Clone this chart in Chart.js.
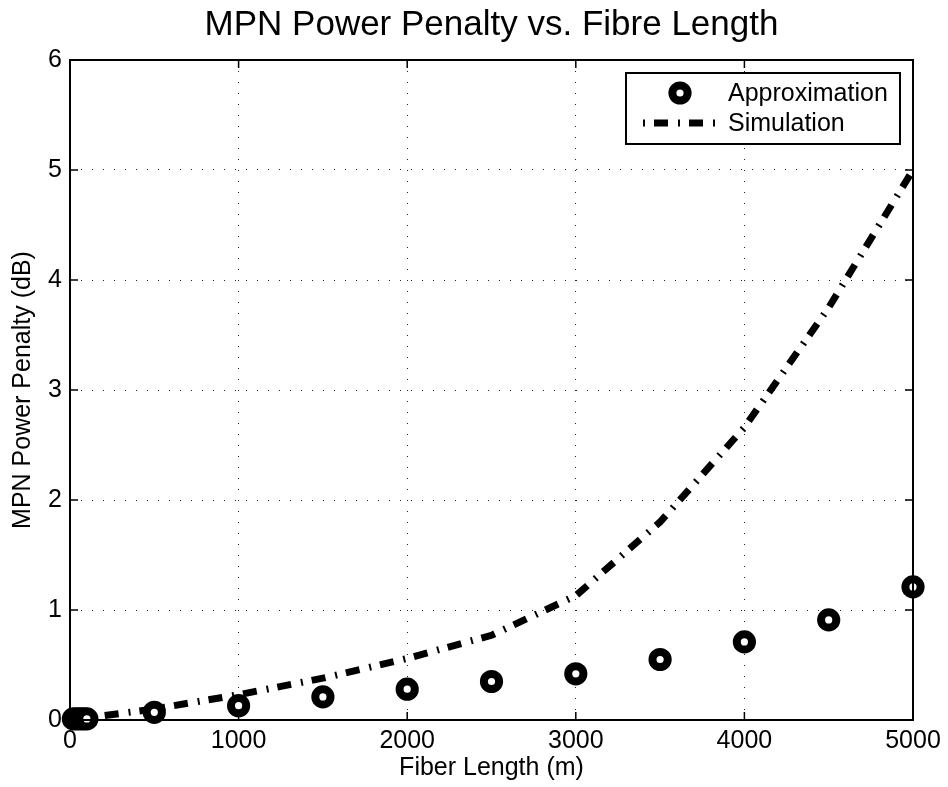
<!DOCTYPE html>
<html>
<head>
<meta charset="utf-8">
<script src="https://cdn.jsdelivr.net/npm/chart.js@4/dist/chart.umd.min.js"></script>
<style>
    html, body { margin: 0; padding: 0; background: #fff; }
    #wrap { width: 948px; height: 787px; }
</style>
</head>
<body>
<div id="wrap"><canvas id="myChartMpn" width="948" height="787"></canvas></div>
<script>
// fibre length (m) and penalty (dB)
const simLength = [0, 500, 1000, 1500, 2000, 2500, 3000, 3500, 4000, 4500, 5000];
const simPenalty = [0, 0.10, 0.23, 0.38, 0.56, 0.77, 1.13, 1.80, 2.66, 3.75, 5.00];

const approxLength = [20, 40, 60, 80, 100, 500, 1000, 1500, 2000, 2500, 3000, 3500, 4000, 4500, 5000];
const approxPenalty = [0.01, 0.01, 0.01, 0.01, 0.01, 0.07, 0.13, 0.21, 0.28, 0.35, 0.42, 0.55, 0.71, 0.91, 1.21];

const xTicks = [0, 1000, 2000, 3000, 4000, 5000];
const yTicks = [0, 1, 2, 3, 4, 5, 6];

const FONT = '"Liberation Sans", Arial, Helvetica, sans-serif';
const SIM_DASH = [14, 10, 2, 9];

const toPoints = (xs, ys) => xs.map((x, i) => ({ x: x, y: ys[i] }));

// axis box, inward ticks and the boxed legend, drawn like the matlab figure
const matlabFrame = {
    id: 'matlabFrame',
    afterDraw(chart) {
        const ctx = chart.ctx;
        const area = chart.chartArea;
        const xs = chart.scales.x;
        const ys = chart.scales.y;
        ctx.save();
        ctx.strokeStyle = '#000';
        ctx.lineWidth = 2;
        ctx.setLineDash([]);
        ctx.strokeRect(area.left, area.top, area.right - area.left, area.bottom - area.top);

        const tl = 8;
        ctx.lineWidth = 1.5;
        ctx.beginPath();
        xTicks.forEach(v => {
            const px = xs.getPixelForValue(v);
            ctx.moveTo(px, area.bottom); ctx.lineTo(px, area.bottom - tl);
            ctx.moveTo(px, area.top); ctx.lineTo(px, area.top + tl);
        });
        yTicks.forEach(v => {
            const py = ys.getPixelForValue(v);
            ctx.moveTo(area.left, py); ctx.lineTo(area.left + tl, py);
            ctx.moveTo(area.right, py); ctx.lineTo(area.right - tl, py);
        });
        ctx.stroke();

        // legend
        const bx = 626, by = 73, bw = 274, bh = 71;
        ctx.fillStyle = '#fff';
        ctx.fillRect(bx, by, bw, bh);
        ctx.lineWidth = 2;
        ctx.strokeRect(bx, by, bw, bh);

        const ds = chart.data.datasets;
        ctx.font = '25px ' + FONT;
        ctx.textBaseline = 'middle';
        ctx.textAlign = 'left';
        ctx.fillStyle = '#000';

        // approximation row
        const r1 = by + 20;
        ctx.beginPath();
        ctx.arc(680, r1, 7.6, 0, Math.PI * 2);
        ctx.fillStyle = '#fff';
        ctx.fill();
        ctx.lineWidth = 8;
        ctx.stroke();
        ctx.fillStyle = '#000';
        ctx.fillText(ds[0].label, 728, r1 + 1);

        // simulation row
        const r2 = by + 50;
        ctx.beginPath();
        ctx.lineWidth = 7;
        ctx.setLineDash(SIM_DASH);
        ctx.lineDashOffset = 24;
        ctx.moveTo(643, r2);
        ctx.lineTo(717, r2);
        ctx.stroke();
        ctx.setLineDash([]);
        ctx.fillText(ds[1].label, 728, r2 + 1);
        ctx.restore();
    }
};

const ctx = document.getElementById('myChartMpn').getContext('2d');
const chart = new Chart(ctx, {
    type: 'scatter',
    data: {
        datasets: [{
            label: 'Approximation',
            data: toPoints(approxLength, approxPenalty),
            showLine: false,
            pointRadius: 7.6,
            pointBorderWidth: 8,
            pointBorderColor: '#000',
            pointBackgroundColor: '#fff',
            clip: false,
            order: 0
        }, {
            label: 'Simulation',
            data: toPoints(simLength, simPenalty),
            showLine: true,
            borderColor: '#000',
            borderWidth: 7,
            borderDash: SIM_DASH,
            borderCapStyle: 'butt',
            pointRadius: 0,
            tension: 0,
            order: 1
        }]
    },

    options: {
        responsive: false,
        animation: false,
        layout: { padding: { left: 0, right: 35, top: 0, bottom: 0 } },
        plugins: {
            legend: { display: false },
            tooltip: { enabled: false },
            title: {
                display: true,
                text: 'MPN Power Penalty vs. Fibre Length',
                color: '#000',
                fullSize: false,
                font: { family: FONT, size: 35, weight: 'normal', lineHeight: 1.2 },
                padding: { top: 4, bottom: 14 }
            }
        },
        scales: {
            x: {
                type: 'linear',
                min: 0,
                max: 5000,
                afterBuildTicks: s => { s.ticks = xTicks.map(v => ({ value: v })); },
                afterFit: s => { s.height = 67; },
                ticks: {
                    color: '#000',
                    padding: 6,
                    font: { family: FONT, size: 25 },
                    maxRotation: 0,
                    callback: v => String(v)
                },
                grid: { color: '#222', lineWidth: 1, drawTicks: false },
                border: { display: false, dash: [1, 10] },
                title: {
                    display: true,
                    text: 'Fiber Length (m)',
                    color: '#000',
                    font: { family: FONT, size: 25 },
                    padding: { top: 0, bottom: 4 }
                }
            },
            y: {
                type: 'linear',
                min: 0,
                max: 6,
                afterBuildTicks: s => { s.ticks = yTicks.map(v => ({ value: v })); },
                afterFit: s => { s.width = 70; },
                ticks: {
                    color: '#000',
                    padding: 8,
                    font: { family: FONT, size: 25 },
                    callback: v => String(v)
                },
                grid: { color: '#222', lineWidth: 1, drawTicks: false },
                border: { display: false, dash: [1, 10] },
                title: {
                    display: true,
                    text: 'MPN Power Penalty (dB)',
                    color: '#000',
                    font: { family: FONT, size: 25 },
                    padding: { top: 8, bottom: 0 }
                }
            }
        }
    },
    plugins: [matlabFrame]
});
</script>
</body>
</html>
